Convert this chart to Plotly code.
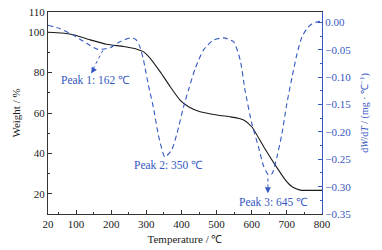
import plotly.graph_objects as go

# TG curve (weight %)
tg_temp = [20, 60, 92, 140, 187, 235, 273, 290, 311, 339, 368, 396, 420, 453, 501,
           540, 562, 577, 600, 634, 667, 696, 715, 738, 770, 800]
tg_weight = [100, 99.6, 98.7, 96.2, 94, 92.9, 91.6, 90.5, 87.1, 80.5, 73, 66.4, 63.1,
             60.6, 59, 58.1, 57.4, 56.5, 53.2, 43.3, 34.2, 26.8, 23.5, 21.8, 21.7, 21.7]

# DTG curve (dW/dT)
dtg_temp = [20, 54, 92, 130, 162, 197, 225, 255, 270, 282, 292, 306, 320, 334, 348,
            353, 372, 387, 406, 420, 439, 463, 491, 520, 548, 567, 581, 600, 619, 634,
            648, 658, 672, 686, 700, 715, 729, 743, 757, 772, 800]
dtg_val = [-0.005, -0.011, -0.023, -0.038, -0.049, -0.046, -0.035, -0.028, -0.031,
           -0.045, -0.069, -0.115, -0.155, -0.205, -0.240, -0.246, -0.233, -0.203,
           -0.154, -0.123, -0.084, -0.050, -0.032, -0.028, -0.035, -0.068, -0.124,
           -0.184, -0.227, -0.263, -0.279, -0.276, -0.245, -0.203, -0.148, -0.099,
           -0.057, -0.026, -0.011, -0.002, 0.003]

x_ticks = [20, 100, 200, 300, 400, 500, 600, 700, 800]
x_minor = [50, 150, 250, 350, 450, 550, 650, 750]
y_ticks = [20, 40, 60, 80, 100, 110]
y_minor = [30, 50, 70, 90]
y2_ticks = [0.0, -0.05, -0.10, -0.15, -0.20, -0.25, -0.30, -0.35]
y2_minor = [-0.025, -0.075, -0.125, -0.175, -0.225, -0.275, -0.325]

peaks_label = ["Peak 1: 162 ℃", "Peak 2: 350 ℃", "Peak 3: 645 ℃"]
peaks_text_x = [154, 362, 662]
peaks_text_y = [76.4, 34.2, 15.9]

BLUE = "#3558c0"
FONT = "Liberation Serif"

fig = go.Figure()
fig.add_trace(go.Scatter(x=tg_temp, y=tg_weight, mode="lines",
                         line=dict(color="#1a1a1a", width=1.1, shape="spline", smoothing=0.6),
                         showlegend=False))
fig.add_trace(go.Scatter(x=dtg_temp, y=dtg_val, mode="lines", yaxis="y2",
                         line=dict(color=BLUE, width=1.1, dash="5px,3.5px", shape="spline", smoothing=0.6),
                         showlegend=False))

for lab, tx, ty in zip(peaks_label, peaks_text_x, peaks_text_y):
    fig.add_annotation(x=tx, y=ty, xref="x", yref="y", text=lab, showarrow=False,
                       font=dict(family=FONT, size=11.5, color=BLUE))

# dotted arrow shafts
fig.add_shape(type="line", xref="x", yref="y2", x0=176, y0=-0.051, x1=145, y1=-0.089,
              line=dict(color=BLUE, width=1, dash="dot"))
fig.add_shape(type="line", xref="x", yref="y2", x0=646, y0=-0.285, x1=646, y1=-0.306,
              line=dict(color=BLUE, width=1, dash="dot"))
# arrow heads
fig.add_annotation(x=143, y=-0.093, xref="x", yref="y2", ax=3, ay=-5, text="",
                   showarrow=True, arrowhead=2, arrowsize=1.2, arrowwidth=1, arrowcolor=BLUE)
fig.add_annotation(x=646, y=-0.312, xref="x", yref="y2", ax=0, ay=-6, text="",
                   showarrow=True, arrowhead=2, arrowsize=1.2, arrowwidth=1, arrowcolor=BLUE)

fig.update_layout(
    width=382, height=250,
    margin=dict(l=48, r=60, t=12, b=36),
    paper_bgcolor="white", plot_bgcolor="white",
    font=dict(family=FONT, size=11, color="#1a1a1a"),
    xaxis=dict(range=[20, 800], tickmode="array", tickvals=x_ticks, automargin=False,
               showline=True, linecolor="#333", linewidth=1, mirror=True,
               ticks="inside", ticklen=4, tickcolor="#333", showgrid=False, zeroline=False,
               minor=dict(tickmode="array", tickvals=x_minor, ticks="inside", ticklen=2, tickcolor="#333"),
               title=dict(text="Temperature / ℃", font=dict(size=11), standoff=6)),
    yaxis=dict(range=[10, 110], tickmode="array", tickvals=y_ticks, automargin=False,
               showline=True, linecolor="#333", linewidth=1,
               ticks="inside", ticklen=4, tickcolor="#333", showgrid=False, zeroline=False,
               minor=dict(tickmode="array", tickvals=y_minor, ticks="inside", ticklen=2, tickcolor="#333"),
               title=dict(text="Weight / %", font=dict(size=11), standoff=5)),
    yaxis2=dict(overlaying="y", side="right", range=[-0.35, 0.0193], automargin=False,
                tickmode="array", tickvals=y2_ticks, tickformat=".2f",
                showline=True, linecolor=BLUE, linewidth=1.2,
                ticks="inside", ticklen=4, tickcolor=BLUE, showgrid=False, zeroline=False,
                tickfont=dict(color=BLUE, size=11),
                minor=dict(tickmode="array", tickvals=y2_minor, ticks="inside", ticklen=2, tickcolor=BLUE),
                title=dict(text="d<i>W</i>/d<i>T</i> / (mg · ℃<sup>−1</sup>)",
                           font=dict(size=10, color=BLUE), standoff=10)),
)

fig.write_html("out.html", config={"displayModeBar": False},
               post_script="document.body.style.margin='0';")
